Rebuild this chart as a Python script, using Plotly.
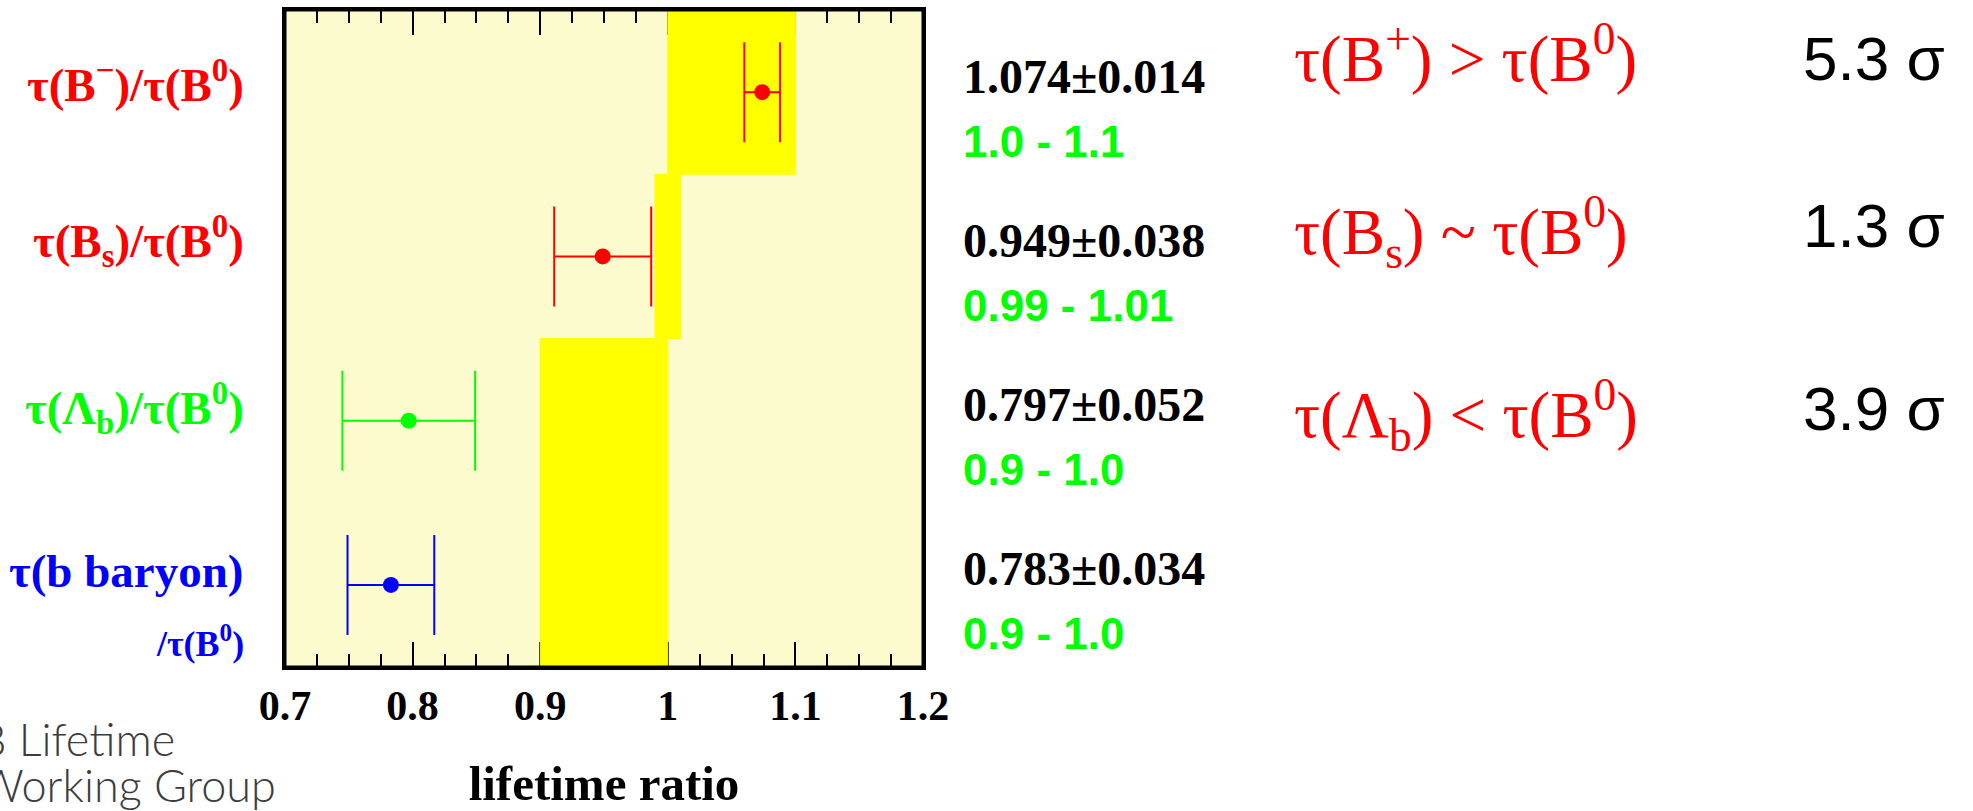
import plotly.graph_objects as go

# Lifetime ratios to the B0 lifetime (top row first)
ratio_labels = [
    "<b>τ(B<sup>−</sup>)/τ(B<sup>0</sup>)</b>",
    "<b>τ(B<sub>s</sub>)/τ(B<sup>0</sup>)</b>",
    "<b>τ(Λ<sub>b</sub>)/τ(B<sup>0</sup>)</b>",
    "<b>τ(b baryon)</b>",
]
ratios = [1.074, 0.949, 0.797, 0.783]
errors = [0.014, 0.038, 0.052, 0.034]
colors = ["#ff0000", "#ff0000", "#00ff00", "#0000ff"]

# Theoretical expectation ranges (yellow bands)
expect_lo = [1.0, 0.99, 0.9, 0.9]
expect_hi = [1.1, 1.01, 1.0, 1.0]

# Conclusions and significances
statements = [
    "τ(B<sup>+</sup>) &gt; τ(B<sup>0</sup>)",
    "τ(B<sub>s</sub>) ~ τ(B<sup>0</sup>)",
    "τ(Λ<sub>b</sub>) &lt; τ(B<sup>0</sup>)",
]
significance = [5.3, 1.3, 3.9]

x_ticks = [0.7, 0.8, 0.9, 1.0, 1.1, 1.2]
x_ticktext = ["0.7", "0.8", "0.9", "1", "1.1", "1.2"]

rows = [3, 2, 1, 0]

W, H = 1973, 811
L, R, T, B = 285, 1050, 7, 139
PW = W - L - R

SERIF = "Liberation Serif, Times New Roman, serif"
SANS = "Liberation Sans, Arial, sans-serif"
YELLOW = "#ffff00"


def px_x(px):
    return (px - L) / PW


def fmt_range(v):
    s = ("%.2f" % v).rstrip("0")
    return s + "0" if s.endswith(".") else s


fig = go.Figure()

# expectation bands
for r, lo, hi in zip(rows, expect_lo, expect_hi):
    fig.add_trace(go.Scatter(
        x=[lo, hi, hi, lo, lo],
        y=[r - 0.5, r - 0.5, r + 0.5, r + 0.5, r - 0.5],
        mode="lines", fill="toself", fillcolor=YELLOW,
        line=dict(color=YELLOW, width=1),
        hoverinfo="skip", showlegend=False,
    ))

# measurements with error bars
for r, v, e, c in zip(rows, ratios, errors, colors):
    fig.add_trace(go.Scatter(
        x=[v], y=[r], mode="markers",
        marker=dict(color=c, size=16),
        error_x=dict(type="data", array=[e], color=c, thickness=2, width=50),
        showlegend=False,
    ))

ann = []
# row labels on the left
label_shift = [11, 15, 13, 14]
for r, txt, c, ys in zip(rows, ratio_labels, colors, label_shift):
    ann.append(dict(x=px_x(246), xref="paper", y=r, yref="y", yshift=ys,
                    xanchor="right", yanchor="middle", text=txt, showarrow=False,
                    font=dict(family=SERIF, size=47, color=c)))
ann.append(dict(x=px_x(246), xref="paper", y=rows[3], yref="y", yshift=-57,
                xanchor="right", yanchor="middle",
                text="<b>/τ(B<sup>0</sup>)</b>", showarrow=False,
                font=dict(family=SERIF, size=36, color=colors[3])))

# measured values and expected ranges
for r, v, e, lo, hi in zip(rows, ratios, errors, expect_lo, expect_hi):
    ann.append(dict(x=px_x(961), xref="paper", y=r, yref="y", yshift=16,
                    xanchor="left", yanchor="middle",
                    text="<b>%.3f±%.3f</b>" % (v, e), showarrow=False,
                    font=dict(family=SERIF, size=48, color="black")))
    ann.append(dict(x=px_x(961), xref="paper", y=r, yref="y", yshift=-49,
                    xanchor="left", yanchor="middle",
                    text="<b>%s - %s</b>" % (fmt_range(lo), fmt_range(hi)),
                    showarrow=False,
                    font=dict(family=SANS, size=44, color="#00ff00")))

# conclusions
stmt_shift = [38, 24, 6]
sig_shift = [34, 31, 12]
for r, s, sg, ys, ss in zip(rows, statements, significance, stmt_shift, sig_shift):
    ann.append(dict(x=px_x(1292), xref="paper", y=r, yref="y", yshift=ys,
                    xanchor="left", yanchor="middle", text=s, showarrow=False,
                    font=dict(family=SERIF, size=65, color="#ff0000")))
    ann.append(dict(x=px_x(1874), xref="paper", y=r, yref="y", yshift=ss,
                    xanchor="center", yanchor="middle", text="%.1f σ" % sg,
                    showarrow=False,
                    font=dict(family=SANS, size=62, color="black")))

# group credit
for txt, yc in [("B Lifetime", 745), ("Working Group", 791)]:
    ann.append(dict(x=px_x(-24), xref="paper", y=(H - B - yc) / (H - T - B),
                    yref="paper", xanchor="left", yanchor="middle", text=txt,
                    showarrow=False,
                    font=dict(family="Lato, Inter, sans-serif", size=45,
                              color="#3c3c3c", weight=300)))

fig.update_layout(
    width=W, height=H,
    margin=dict(l=L, r=R, t=T, b=B, pad=0),
    paper_bgcolor="white", plot_bgcolor="#fcfbcd",
    annotations=ann,
    shapes=[dict(type="rect", xref="paper", yref="paper", x0=0, x1=1, y0=0, y1=1,
                 line=dict(color="black", width=3), layer="above")],
    showlegend=False,
)
fig.update_xaxes(
    range=[0.7, 1.2], tickvals=x_ticks, ticktext=x_ticktext,
    ticks="inside", ticklen=25, tickwidth=2, tickcolor="black",
    minor=dict(dtick=0.025, tick0=0.7, ticks="inside", ticklen=13,
               tickwidth=2, tickcolor="black", showgrid=False),
    showline=True, linecolor="black", linewidth=3, mirror="ticks",
    showgrid=False, zeroline=False, layer="below traces",
    tickfont=dict(family=SERIF, size=42, color="black", weight="bold"),
    title=dict(text="<b>lifetime ratio</b>", standoff=40,
               font=dict(family=SERIF, size=49, color="black")),
)
fig.update_yaxes(
    range=[-0.5, 3.5], showticklabels=False, ticks="",
    showline=True, linecolor="black", linewidth=3, mirror=True,
    showgrid=False, zeroline=False, layer="below traces",
)

fig.write_html("out.html")
